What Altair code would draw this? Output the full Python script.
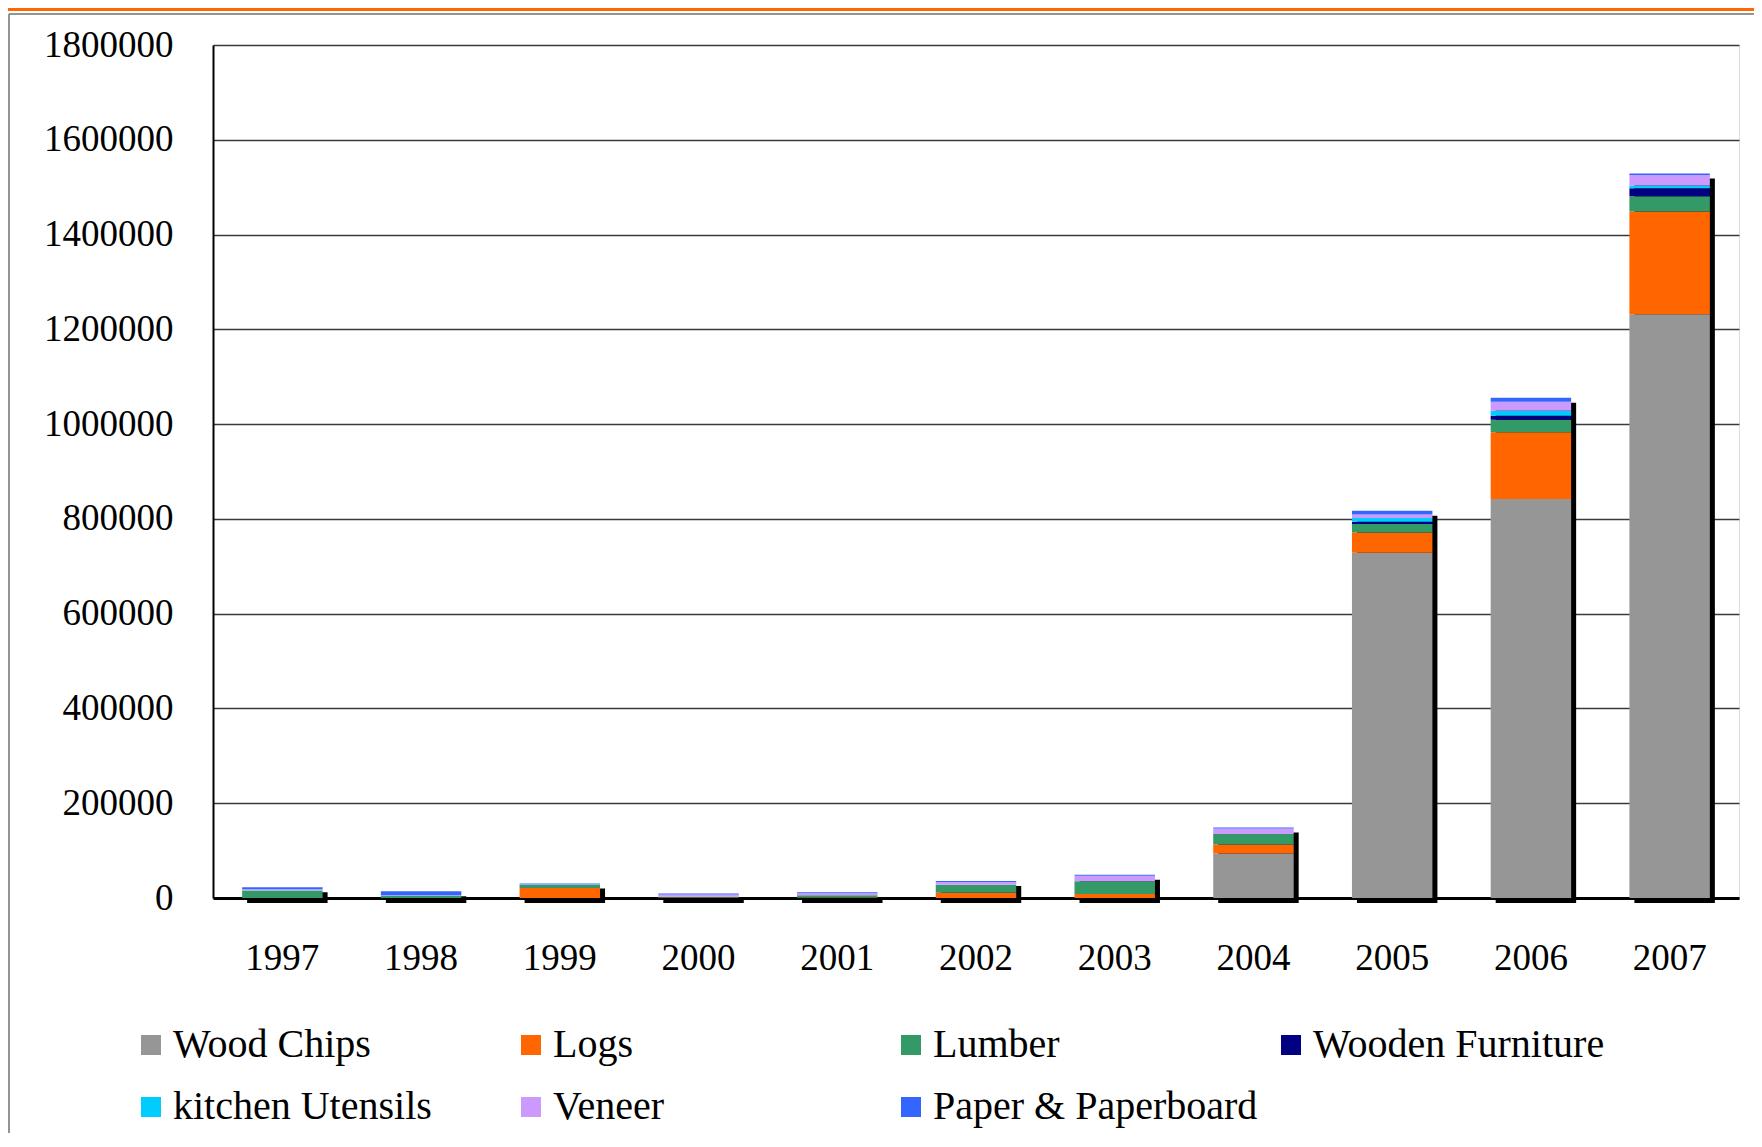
import altair as alt
import pandas as pd

years = ["1997", "1998", "1999", "2000", "2001", "2002", "2003", "2004", "2005", "2006", "2007"]
categories = ["Wood Chips", "Logs", "Lumber", "Wooden Furniture",
              "kitchen Utensils", "Veneer", "Paper & Paperboard"]
colors = ["#969696", "#FF6600", "#339966", "#000080", "#00CCFF", "#CC99FF", "#3366FF"]

wood_chips = [0, 0, 0, 0, 0, 0, 0, 94000, 728600, 842000, 1231600]
logs = [0, 0, 21000, 1000, 1000, 11000, 8400, 19000, 42900, 140700, 217000]
lumber = [16000, 5000, 7000, 1500, 5000, 17000, 26700, 21800, 17600, 26700, 32000]
wooden_furniture = [0, 0, 0, 0, 0, 0, 0, 0, 4900, 8400, 17000]
kitchen_utensils = [0, 0, 0, 0, 0, 0, 0, 0, 7700, 10500, 6000]
veneer = [2500, 1000, 1000, 5000, 4000, 6000, 12000, 12000, 7700, 19000, 22000]
paper = [4000, 8500, 1500, 2000, 2000, 2000, 2000, 2000, 7800, 8400, 3000]

series = [wood_chips, logs, lumber, wooden_furniture, kitchen_utensils, veneer, paper]
y_ticks = list(range(0, 1800001, 200000))

rows = []
for ci, (cat, vals) in enumerate(zip(categories, series)):
    for yr, v in zip(years, vals):
        rows.append({"year": yr, "category": cat, "value": v, "idx": ci})
df = pd.DataFrame(rows)
totals = pd.DataFrame({"year": years, "total": [sum(s[i] for s in series) for i in range(len(years))]})

FONT = "Liberation Serif"

x_enc = alt.X("year:N", sort=years, title=None,
              scale=alt.Scale(paddingInner=0.42, paddingOuter=0.21),
              axis=alt.Axis(labelAngle=0, ticks=False, labelPadding=42, labelFontSize=37,
                            labelFont=FONT, labelColor="black", domainColor="black",
                            domainWidth=3, grid=False))
y_scale = alt.Scale(domain=[0, 1800000], nice=False)

shadow = alt.Chart(totals).mark_bar(color="black", xOffset=5, x2Offset=5, yOffset=5, y2Offset=5).encode(
    x=x_enc,
    y=alt.Y("total:Q", scale=y_scale, title=None),
)

bars = alt.Chart(df).mark_bar().encode(
    x=x_enc,
    y=alt.Y("value:Q", stack="zero", scale=y_scale, title=None,
            axis=alt.Axis(values=y_ticks, format="d", ticks=False, labelPadding=40,
                          labelFontSize=37, labelFont=FONT, labelColor="black",
                          domainColor="black", domainWidth=2, grid=True,
                          gridColor="#3a3a3a", gridWidth=1.5)),
    color=alt.Color("category:N", scale=alt.Scale(domain=categories, range=colors),
                    legend=alt.Legend(orient="none", legendX=-82, legendY=980,
                                      direction="horizontal", columns=4, title=None,
                                      symbolType="square", symbolSize=400,
                                      symbolStrokeWidth=0, labelFont=FONT,
                                      labelFontSize=40, labelColor="black",
                                      labelOffset=2, columnPadding=13, rowPadding=22,
                                      gridAlign="all", labelLimit=0)),
    order=alt.Order("idx:Q", sort="ascending"),
)

deco = alt.Data(values=[{"k": 1}])
orange_line = alt.Chart(deco).mark_rule(color="#FF6600", strokeWidth=3).encode(
    x=alt.value(-205), x2=alt.value(1541), y=alt.value(-35.5))
frame_top = alt.Chart(deco).mark_rule(color="#707070", strokeWidth=1.5).encode(
    x=alt.value(-204), x2=alt.value(1541), y=alt.value(-31))
frame_left = alt.Chart(deco).mark_rule(color="#707070", strokeWidth=1.5).encode(
    x=alt.value(-204), y=alt.value(-31), y2=alt.value(1088))

chart = alt.layer(shadow, bars, orange_line, frame_top, frame_left).properties(
    width=1526, height=853,
    autosize=alt.AutoSizeParams(type="none"),
    padding={"left": 205, "top": 37, "right": 15, "bottom": 235},
).configure_view(stroke="black", strokeWidth=2).configure(background="white")

chart.save("out.html", embed_options={"renderer": "svg", "actions": False})
